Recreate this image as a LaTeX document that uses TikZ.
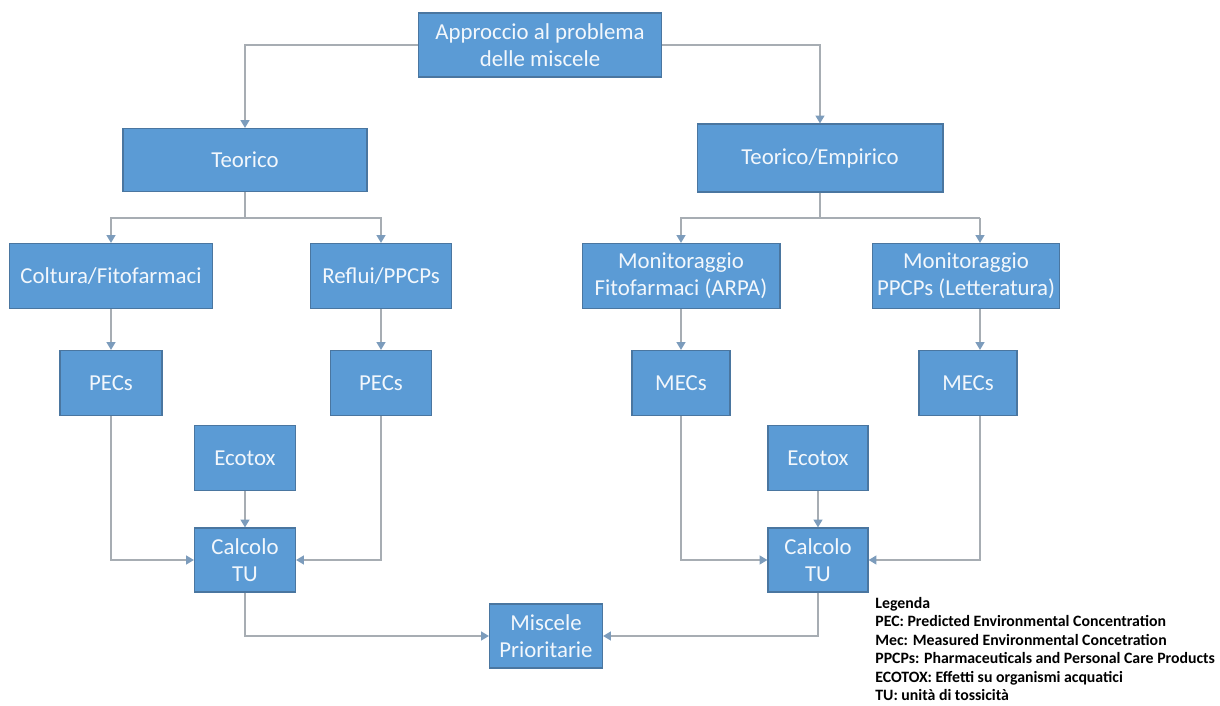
\documentclass[tikz,border=0pt]{standalone}
\usepackage{fontspec}
\setmainfont{Carlito}
\usepackage{xcolor}
\usetikzlibrary{arrows.meta,positioning}

\definecolor{boxblue}{HTML}{5B9BD5}
\definecolor{boxedge}{HTML}{4A76A0}
\definecolor{linegray}{HTML}{A7ADB3}
\definecolor{tipblue}{HTML}{7C9CBC}

\tikzset{
	blok/.style={draw=boxedge, fill=boxblue, text=white!92!boxblue, align=center,
		font=\fontsize{13}{15.5}\selectfont, inner sep=2pt, line width=0.6pt},
	conn/.style={draw=linegray, line width=1.1pt,
		-{Triangle[width=5pt,length=4.5pt,color=tipblue]}},
	plain/.style={draw=linegray, line width=1.1pt}
}

\begin{document}
\begin{tikzpicture}[x=0.02cm, y=-0.02cm]
			\useasboundingbox (0,0) rectangle (1220,706);
			
			% top
			\node[blok, minimum width=4.86cm, minimum height=1.28cm] (top) at (540,45) {Approccio al problema\\delle miscele};
			\node[blok, minimum width=4.88cm, minimum height=1.26cm] (teo) at (245,160) {Teorico};
			\node[blok, minimum width=4.92cm, minimum height=1.36cm] (teoemp) at (820,158) {Teorico/Empirico};
			
			% left branch
			\node[blok, minimum width=4.06cm, minimum height=1.30cm] (coltura) at (111,276) {Coltura/Fitofarmaci};
			\node[blok, minimum width=2.82cm, minimum height=1.30cm] (reflui) at (381,276) {Reflui/PPCPs};
			\node[blok, minimum width=2.04cm, minimum height=1.30cm] (pecL) at (111,383) {PECs};
			\node[blok, minimum width=2.02cm, minimum height=1.30cm] (pecR) at (381,383) {PECs};
			\node[blok, minimum width=2.02cm, minimum height=1.30cm] (ecoL) at (245,458) {Ecotox};
			\node[blok, minimum width=2.02cm, minimum height=1.28cm] (calcL) at (245,560) {Calcolo\\TU};
			
			% right branch
			\node[blok, minimum width=3.96cm, minimum height=1.30cm] (monF) at (681,276) {Monitoraggio\\Fitofarmaci (ARPA)};
			\node[blok, minimum width=3.74cm, minimum height=1.30cm] (monP) at (966,276) {Monitoraggio\\PPCPs (Letteratura)};
			\node[blok, minimum width=1.96cm, minimum height=1.30cm] (mecL) at (681,383) {MECs};
			\node[blok, minimum width=1.96cm, minimum height=1.30cm] (mecR) at (968,383) {MECs};
			\node[blok, minimum width=2.00cm, minimum height=1.30cm] (ecoR) at (818,458) {Ecotox};
			\node[blok, minimum width=2.00cm, minimum height=1.28cm] (calcR) at (818,560) {Calcolo\\TU};
			
			\node[blok, minimum width=2.26cm, minimum height=1.28cm] (misc) at (546,636) {Miscele\\Prioritarie};
			
			\coordinate (jl) at (245,218);
			\coordinate (jr) at (820,218);
			\coordinate (kr) at (980,218);
			
			\draw[conn] (top.west) -| (teo.north);
			\draw[conn] (top.east) -| (teoemp.north);
			
			\draw[plain] (teo.south) -- (jl);
			\draw[conn] (jl) -| (coltura.north);
			\draw[conn] (jl) -| (reflui.north);
			\draw[conn] (coltura) -- (pecL);
			\draw[conn] (reflui) -- (pecR);
			\draw[conn] (pecL.south) |- (calcL.west);
			\draw[conn] (pecR.south) |- (calcL.east);
			\draw[conn] (ecoL) -- (calcL);
			\draw[conn] (calcL.south) |- (misc.west);
			
			\draw[plain] (teoemp.south) -- (jr);
			\draw[conn] (jr) -| (monF.north);
			\draw[plain] (jr) -- (kr);
			\draw[conn] (kr) -- (kr |- monP.north);
			\draw[conn] (monF) -- (mecL);
			\draw[conn] (kr |- monP.south) -- (kr |- mecR.north);
			\draw[conn] (mecL.south) |- (calcR.west);
			\draw[conn] (kr |- mecR.south) |- (calcR.east);
			\draw[conn] (ecoR) -- (calcR);
			\draw[conn] (calcR.south) |- (misc.east);
			
			% legend
			\node[anchor=north west, align=left, inner sep=0pt,
				font=\bfseries\fontsize{9}{10.5}\selectfont] (legenda) at (875,597)
				{Legenda\\
				PEC: Predicted Environmental Concentration\\
				Mec: Measured Environmental Concetration\\
				PPCPs: Pharmaceuticals and Personal Care Products\\
				ECOTOX: Effetti su organismi acquatici\\
				TU: unità di tossicità};
		\end{tikzpicture}
\end{document}
